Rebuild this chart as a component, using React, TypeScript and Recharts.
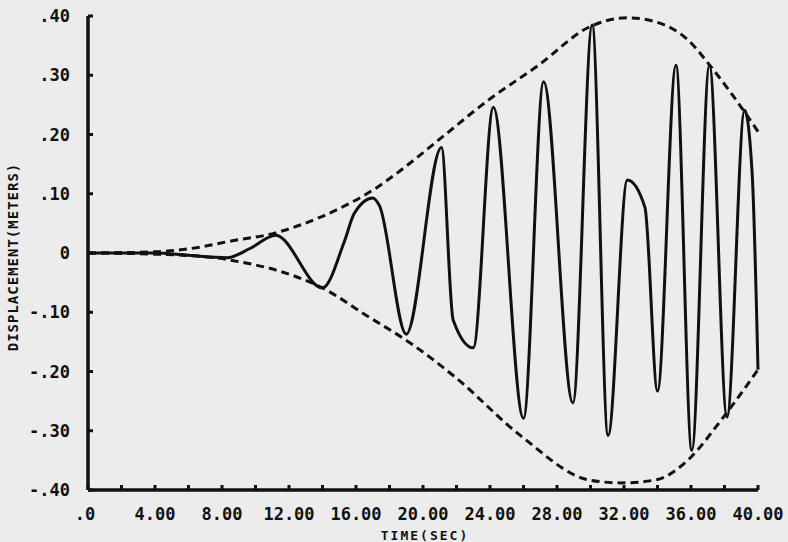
import React from "react";
import { Line, LineChart, XAxis, YAxis } from "recharts";

// displacement response (time in sec, displacement in m)
const responseTime = [
  0, 4, 6, 8.3, 9.7, 11.2, 14.0, 15.3, 15.9, 17.0, 17.4, 19.0, 21.1, 21.8,
  23.0, 24.2, 26.0, 27.2, 28.95, 30.1, 31.05, 32.2, 33.25, 34.0, 35.1, 36.05,
  37.1, 38.15, 39.2, 39.65, 40.0,
];
const responseDisp = [
  0, 0, -0.004, -0.008, 0.008, 0.03, -0.059, 0.019, 0.067, 0.093, 0.08,
  -0.137, 0.178, -0.113, -0.16, 0.246, -0.279, 0.289, -0.253, 0.385, -0.308,
  0.123, 0.077, -0.233, 0.317, -0.333, 0.317, -0.277, 0.241, 0.135, -0.197,
];

// dashed envelopes
const upperTime = [0, 4, 6.7, 8.3, 11.2, 14, 15.5, 17, 18.6, 20.9, 23.9, 26.9, 29.9, 32.2, 33.9, 35.8, 37.2, 39.2, 40];
const upperDisp = [0, 0.002, 0.01, 0.019, 0.034, 0.062, 0.082, 0.106, 0.138, 0.19, 0.258, 0.317, 0.381, 0.397, 0.39, 0.36, 0.314, 0.238, 0.205];
const lowerTime = [0, 4, 7.9, 8.5, 11.6, 14, 16.6, 19.4, 21.9, 25.9, 29.9, 31.8, 33.9, 35.8, 37.8, 40];
const lowerDisp = [0, -0.002, -0.009, -0.012, -0.032, -0.059, -0.105, -0.155, -0.209, -0.31, -0.383, -0.388, -0.383, -0.35, -0.282, -0.197];

const xTicks = [0, 2, 4, 6, 8, 10, 12, 14, 16, 18, 20, 22, 24, 26, 28, 30, 32, 34, 36, 38, 40];
const yTicks = [-0.4, -0.3, -0.2, -0.1, 0, 0.1, 0.2, 0.3, 0.4];

const zip = (t: number[], v: number[]) => t.map((x, i) => ({ t: x, v: v[i] }));
const response = zip(responseTime, responseDisp);
const upper = zip(upperTime, upperDisp);
const lower = zip(lowerTime, lowerDisp);

const INK = "#111";
const FONT = "'DejaVu Sans Mono', monospace";

const fmtY = (v: number) => {
  if (Math.abs(v) < 1e-9) return "0";
  const s = Math.abs(v).toFixed(2).replace(/^0/, "");
  return v < 0 ? "-" + s : s;
};
const fmtX = (v: number) => (v === 0 ? ".0" : v.toFixed(2));

function YTick(props: any) {
  const { x, y, payload } = props;
  return (
    <g>
      <line x1={x} x2={x + 5} y1={y} y2={y} stroke={INK} strokeWidth={3} />
      <text
        x={x - 18}
        y={y}
        dy={6}
        textAnchor="end"
        fontFamily={FONT}
        fontWeight="bold"
        fontSize={17}
        fill={INK}
      >
        {fmtY(payload.value)}
      </text>
    </g>
  );
}

function XTick(props: any) {
  const { x, y, payload } = props;
  const v = payload.value as number;
  return (
    <g>
      <line x1={x} x2={x} y1={y} y2={y - 5} stroke={INK} strokeWidth={3} />
      {v % 4 === 0 && (
        <text
          x={x}
          y={y + 30}
          dx={v === 0 ? -3 : 0}
          textAnchor="middle"
          fontFamily={FONT}
          fontWeight="bold"
          fontSize={17}
          fill={INK}
        >
          {fmtX(v)}
        </text>
      )}
    </g>
  );
}

function XTitle(props: any) {
  const { x, y, width, height } = props.viewBox;
  return (
    <text
      x={x + width / 2 + 2}
      y={y + height + 10}
      textAnchor="middle"
      fontFamily={FONT}
      fontWeight="bold"
      fontSize={13}
      letterSpacing={2}
      fill={INK}
    >
      TIME(SEC)
    </text>
  );
}

function YTitle(props: any) {
  const { x, y, height } = props.viewBox;
  const cx = x + 18;
  const cy = y + height / 2 + 4;
  return (
    <text
      x={cx}
      y={cy}
      transform={`rotate(-90 ${cx} ${cy})`}
      textAnchor="middle"
      fontFamily={FONT}
      fontWeight="bold"
      fontSize={14}
      letterSpacing={1}
      fill={INK}
    >
      DISPLACEMENT(METERS)
    </text>
  );
}

export default function App() {
  return (
    <div
      style={{
        position: "absolute",
        left: 0,
        top: 0,
        width: 788,
        height: 542,
        background: "#ececec",
      }}
    >
      <LineChart width={788} height={542} margin={{ top: 16, right: 30, bottom: 12, left: 0 }}>
        <XAxis
          dataKey="t"
          type="number"
          domain={[0, 40]}
          ticks={xTicks}
          interval={0}
          tickSize={0}
          tickMargin={0}
          height={40}
          axisLine={{ stroke: INK, strokeWidth: 3.5 }}
          tickLine={false}
          tick={<XTick />}
          label={{ content: XTitle }}
        />
        <YAxis
          type="number"
          domain={[-0.4, 0.4]}
          ticks={yTicks}
          interval={0}
          width={88}
          tickSize={0}
          tickMargin={0}
          axisLine={{ stroke: INK, strokeWidth: 3.5 }}
          tickLine={false}
          tick={<YTick />}
          label={{ content: YTitle }}
        />
        <Line
          data={upper}
          dataKey="v"
          type="monotone"
          stroke={INK}
          strokeWidth={3}
          strokeDasharray="8 5"
          dot={false}
          isAnimationActive={false}
        />
        <Line
          data={lower}
          dataKey="v"
          type="monotone"
          stroke={INK}
          strokeWidth={3}
          strokeDasharray="8 5"
          dot={false}
          isAnimationActive={false}
        />
        <Line
          data={response}
          dataKey="v"
          type="monotone"
          stroke={INK}
          strokeWidth={3}
          dot={false}
          isAnimationActive={false}
        />
      </LineChart>
    </div>
  );
}
